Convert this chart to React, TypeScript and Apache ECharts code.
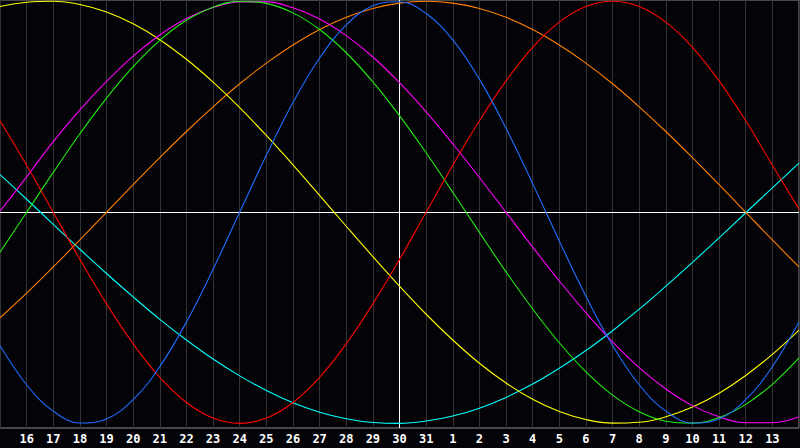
import React, { useEffect, useRef } from "react";
import * as echarts from "echarts";

const DAY_LABELS = [
  "15", "16", "17", "18", "19", "20", "21", "22", "23", "24", "25", "26", "27", "28", "29", "30", "31",
  "1", "2", "3", "4", "5", "6", "7", "8", "9", "10", "11", "12", "13", "14",
];
const TODAY = "30";

// blue
const PHYSICAL = [
  -63.1, -81.7, -94.2, -99.8, -97.9, -88.8, -73.1, -52.0, -27.0, 0, 27.0, 52.0, 73.1, 88.8, 97.9, 99.8,
  94.2, 81.7, 63.1, 39.8, 13.6, -13.6, -39.8, -63.1, -81.7, -94.2, -99.8, -97.9, -88.8, -73.1, -52.0,
];
// red
const EMOTIONAL = [
  43.4, 22.3, 0, -22.3, -43.4, -62.3, -78.2, -90.1, -97.5, -100, -97.5, -90.1, -78.2, -62.3, -43.4, -22.3,
  0, 22.3, 43.4, 62.3, 78.2, 90.1, 97.5, 100, 97.5, 90.1, 78.2, 62.3, 43.4, 22.3, 1.5,
];
// green
const INTELLECTUAL = [
  -18.9, 0, 18.9, 37.2, 54.1, 69.0, 81.5, 91.0, 97.2, 99.9, 99.0, 94.5, 86.6, 75.6, 61.8, 45.8,
  28.2, 9.5, -9.5, -28.2, -45.8, -61.8, -75.6, -86.6, -94.5, -99.0, -99.9, -97.2, -91.0, -81.5, -69.0,
];
// magenta
const INTUITIVE = [
  0.5, 16.8, 33.5, 48.5, 62.0, 74.0, 84.0, 91.8, 97.0, 99.7, 99.7, 96.9, 91.6, 83.7, 73.6, 61.4,
  47.6, 32.5, 16.5, 0, -16.5, -32.5, -47.6, -61.4, -73.6, -83.7, -91.6, -96.9, -99.7, -99.7, -96.9,
];
// yellow
const AESTHETIC = [
  97.5, 99.5, 100.0, 98.5, 94.9, 89.3, 81.8, 72.5, 61.7, 49.6, 36.4, 22.5, 8.0, -6.6, -21.0, -35.0,
  -48.3, -60.5, -71.5, -80.9, -88.6, -94.4, -98.2, -99.9, -99.5, -96.9, -92.3, -85.7, -77.3, -67.3, -55.8,
];
// orange
const AWARENESS = [
  -50.0, -38.3, -25.9, -13.1, 0, 13.1, 25.9, 38.3, 50.0, 60.9, 70.7, 79.3, 86.6, 92.4, 96.6, 99.1,
  100, 99.1, 96.6, 92.4, 86.6, 79.3, 70.7, 60.9, 50.0, 38.3, 25.9, 13.1, 0, -13.1, -25.9,
];
// cyan
const SPIRITUAL = [
  17.9, 6.2, -5.7, -17.5, -29.0, -40.1, -50.7, -60.5, -69.5, -77.5, -84.4, -90.2, -94.7, -97.8, -99.6, -100.0,
  -98.9, -96.5, -92.8, -87.7, -81.4, -73.9, -65.5, -56.1, -45.9, -35.0, -23.7, -12.1, -0.2, 11.6, 23.3,
];

const SERIES = [
  { name: "Spiritual", data: SPIRITUAL, color: "#00ffff" },
  { name: "Awareness", data: AWARENESS, color: "#ff8000" },
  { name: "Aesthetic", data: AESTHETIC, color: "#ffff00" },
  { name: "Intuitive", data: INTUITIVE, color: "#ff00ff" },
  { name: "Intellectual", data: INTELLECTUAL, color: "#22ee11" },
  { name: "Emotional", data: EMOTIONAL, color: "#ff0000" },
  { name: "Physical", data: PHYSICAL, color: "#1e6eff" },
];

export default function App() {
  const ref = useRef<HTMLDivElement>(null);

  useEffect(() => {
    if (!ref.current) return;
    const chart = echarts.init(ref.current, undefined, { renderer: "svg" });
    const last = DAY_LABELS.length - 1;
    chart.setOption({
      animation: false,
      backgroundColor: "#040308",
      grid: {
        left: 0,
        right: 1,
        top: 0,
        bottom: 20,
        show: true,
        borderColor: "#8a8a8a",
        borderWidth: 1,
        backgroundColor: "transparent",
      },
      xAxis: {
        type: "category",
        data: DAY_LABELS,
        boundaryGap: false,
        axisLine: { show: false },
        axisTick: { show: false },
        axisLabel: {
          interval: (index: number) => index > 0 && index < last,
          color: "#ffffff",
          fontFamily: "DejaVu Sans Mono",
          fontWeight: "bold",
          fontSize: 12,
          margin: 5,
        },
        splitLine: { show: true, interval: 0, lineStyle: { color: "#333333", width: 1 } },
      },
      yAxis: {
        type: "value",
        min: -102.2,
        max: 100.6,
        show: false,
        splitLine: { show: false },
      },
      series: SERIES.map((s, idx) => ({
        type: "line",
        name: s.name,
        data: s.data,
        smooth: 0.4,
        symbol: "none",
        lineStyle: { color: s.color, width: 1.1 },
        z: 3,
        ...(idx === 0
          ? {
              markLine: {
                silent: true,
                symbol: "none",
                label: { show: false },
                lineStyle: { color: "#ffffff", width: 1, type: "solid" },
                z: 2,
                data: [{ xAxis: TODAY }, { yAxis: 0 }],
              },
            }
          : {}),
      })),
    });
    return () => chart.dispose();
  }, []);

  return (
    <div
      ref={ref}
      style={{ position: "fixed", left: 0, top: 0, width: 800, height: 448 }}
    />
  );
}
